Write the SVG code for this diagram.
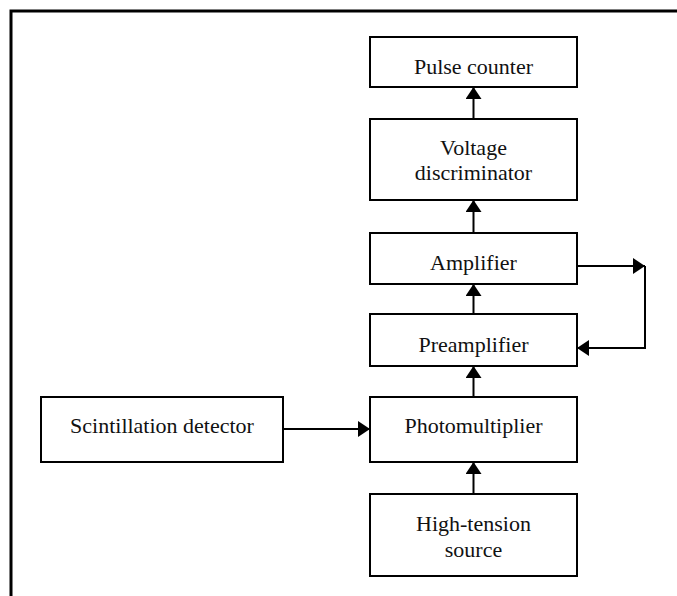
<svg xmlns="http://www.w3.org/2000/svg" width="677" height="596" viewBox="0 0 677 596">
<style>
.box{fill:#fff;stroke:#000;stroke-width:2}
.t{font-family:"Liberation Serif","Times New Roman",serif;font-size:22px;fill:#111;text-anchor:middle}
.c{fill:none;stroke:#000;stroke-width:2}
</style>
<defs>
<marker id="ah" markerUnits="userSpaceOnUse" markerWidth="12" markerHeight="16" viewBox="0 0 12 16" refX="12" refY="8" orient="auto">
<path d="M0,0 L12,8 L0,16 Z" fill="#000"/>
</marker>
</defs>
<rect x="0" y="0" width="677" height="596" fill="#fff"/>
<path d="M11,596 V11 H677" fill="none" stroke="#000" stroke-width="3"/>
<g id="pulse-counter"><rect class="box" x="370" y="37" width="207" height="50"/><text class="t" x="473.5" y="74">Pulse counter</text></g>
<g id="voltage-discriminator"><rect class="box" x="370" y="119" width="207" height="81"/><text class="t" x="473.5" y="155">Voltage</text><text class="t" x="473.5" y="180">discriminator</text></g>
<g id="amplifier"><rect class="box" x="370" y="233" width="207" height="51"/><text class="t" x="473.5" y="270">Amplifier</text></g>
<g id="preamplifier"><rect class="box" x="370" y="314" width="207" height="52"/><text class="t" x="473.5" y="352">Preamplifier</text></g>
<g id="photomultiplier"><rect class="box" x="370" y="397" width="207" height="65"/><text class="t" x="473.5" y="433">Photomultiplier</text></g>
<g id="scintillation-detector"><rect class="box" x="41" y="397" width="242" height="65"/><text class="t" x="162" y="433">Scintillation detector</text></g>
<g id="high-tension-source"><rect class="box" x="370" y="494" width="207" height="82"/><text class="t" x="473.5" y="531">High-tension</text><text class="t" x="473.5" y="557">source</text></g>
<g id="connectors">
<line class="c" x1="473.5" y1="119" x2="473.5" y2="87" marker-end="url(#ah)"/>
<line class="c" x1="473.5" y1="233" x2="473.5" y2="200" marker-end="url(#ah)"/>
<line class="c" x1="473.5" y1="314" x2="473.5" y2="284" marker-end="url(#ah)"/>
<line class="c" x1="473.5" y1="397" x2="473.5" y2="366" marker-end="url(#ah)"/>
<line class="c" x1="473.5" y1="494" x2="473.5" y2="462" marker-end="url(#ah)"/>
<line class="c" x1="283" y1="429" x2="370" y2="429" marker-end="url(#ah)"/>
<line class="c" x1="577" y1="266" x2="645" y2="266" marker-end="url(#ah)"/>
<line class="c" x1="645" y1="266" x2="645" y2="348"/>
<line class="c" x1="646" y1="348" x2="577" y2="348" marker-end="url(#ah)"/>
</g>
</svg>
